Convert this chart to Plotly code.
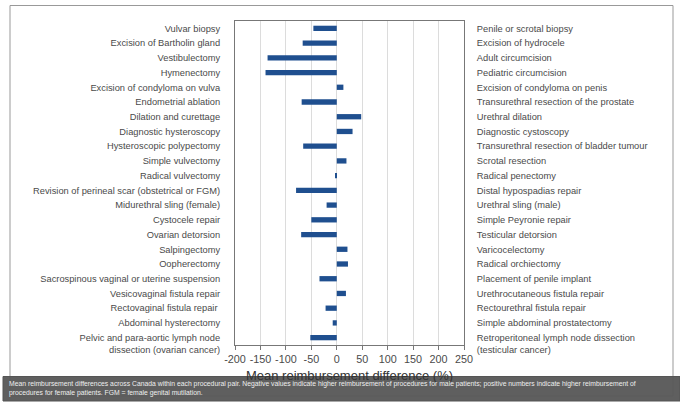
import plotly.graph_objects as go

# procedural pairs: female procedure (left) vs male procedure (right)
female_procs = [
    "Vulvar biopsy",
    "Excision of Bartholin gland",
    "Vestibulectomy",
    "Hymenectomy",
    "Excision of condyloma on vulva",
    "Endometrial ablation",
    "Dilation and curettage",
    "Diagnostic hysteroscopy",
    "Hysteroscopic polypectomy",
    "Simple vulvectomy",
    "Radical vulvectomy",
    "Revision of perineal scar (obstetrical or FGM)",
    "Midurethral sling (female)",
    "Cystocele repair",
    "Ovarian detorsion",
    "Salpingectomy",
    "Oopherectomy",
    "Sacrospinous vaginal or uterine suspension",
    "Vesicovaginal fistula repair",
    "Rectovaginal fistula repair ",
    "Abdominal hysterectomy",
    "Pelvic and para-aortic lymph node<br>dissection (ovarian cancer)",
]
male_procs = [
    "Penile or scrotal biopsy",
    "Excision of hydrocele",
    "Adult circumcision",
    "Pediatric circumcision",
    "Excision of condyloma on penis",
    "Transurethral resection of the prostate",
    "Urethral dilation",
    "Diagnostic cystoscopy",
    "Transurethral resection of bladder tumour",
    "Scrotal resection",
    "Radical penectomy",
    "Distal hypospadias repair",
    "Urethral sling (male)",
    "Simple Peyronie repair",
    "Testicular detorsion",
    "Varicocelectomy",
    "Radical orchiectomy",
    "Placement of penile implant",
    "Urethrocutaneous fistula repair",
    "Rectourethral fistula repair",
    "Simple abdominal prostatectomy",
    "Retroperitoneal lymph node dissection<br>(testicular cancer)",
]
diff_pct = [-46, -67, -136, -140, 13, -69, 48, 31, -66, 19, -2,
            -80, -20, -50, -70, 21, 22, -34, 18, -22, -8, -52]

x_ticks = [-200, -150, -100, -50, 0, 50, 100, 150, 200, 250]
x_tick_labels = ["-200", "-150", "-100", "-50", "0", "50", "100", "150", "200", "250"]

caption = ("Mean reimbursement differences across Canada within each procedural pair. "
           "Negative values indicate higher reimbursement of procedures for male patients; "
           "positive numbers indicate higher reimbursement of<br>procedures for female patients. "
           "FGM = female genital mutilation.")

W, H = 680, 405
L, R, T, B = 235, 216, 21, 60


def px(x):
    return (x - L) / (W - L - R)


def py(y):
    return 1 - (y - T) / (H - T - B)


def hang(labels):
    # two-line labels hang below their bar: pad with an empty line on top
    return [" <br>" + s if "<br>" in s else s for s in labels]


n = len(female_procs)
y_range = [n - 0.5, -0.5]

fig = go.Figure()
fig.add_trace(go.Bar(
    x=diff_pct, y=female_procs, orientation="h",
    marker=dict(color="#1f4f8f", line=dict(width=0)),
    width=0.36, yaxis="y", showlegend=False,
))
# invisible trace so the right-hand axis carries the male procedure names
fig.add_trace(go.Scatter(
    x=diff_pct, y=male_procs, mode="markers",
    marker=dict(opacity=0), yaxis="y2", showlegend=False, hoverinfo="skip",
))

lab_font = dict(family="Liberation Sans", size=9.3, color="#4a4a4a")

fig.update_layout(
    width=W, height=H,
    margin=dict(l=L, r=R, t=T, b=B),
    paper_bgcolor="white", plot_bgcolor="white",
    font=dict(family="Liberation Sans"),
    xaxis=dict(
        range=[-200, 250], tickvals=x_ticks, ticktext=x_tick_labels,
        showgrid=True, gridcolor="#dcdcdc", gridwidth=1, zeroline=False,
        showline=True, linecolor="#777", linewidth=1, mirror=True,
        ticks="outside", ticklen=4, tickcolor="#777",
        tickfont=dict(family="Liberation Sans", size=10.8, color="#4a4a4a"),
        title=dict(text="Mean reimbursement difference (%)", standoff=6,
                   font=dict(family="Liberation Sans", size=13, color="#333")),
    ),
    yaxis=dict(
        type="category", categoryorder="array", categoryarray=female_procs,
        tickmode="array", tickvals=female_procs, ticktext=hang(female_procs),
        range=y_range, autorange=False, showgrid=False, zeroline=False,
        showline=True, linecolor="#777", linewidth=1,
        ticks="", ticklabelstandoff=12, tickfont=lab_font,
    ),
    yaxis2=dict(
        type="category", categoryorder="array", categoryarray=male_procs,
        tickmode="array", tickvals=male_procs, ticktext=hang(male_procs),
        range=y_range, autorange=False, overlaying="y", side="right",
        showgrid=False, zeroline=False,
        showline=True, linecolor="#777", linewidth=1,
        ticks="", ticklabelstandoff=10, tickfont=lab_font,
    ),
    shapes=[
        # outer frame
        dict(type="rect", xref="paper", yref="paper",
             x0=px(10), x1=px(673), y0=py(396), y1=py(5.5),
             line=dict(color="#999", width=1), fillcolor="rgba(0,0,0,0)"),
        # caption bar
        dict(type="rect", xref="paper", yref="paper",
             x0=px(3), x1=px(680), y0=py(401), y1=py(376.5),
             line=dict(color="#555", width=1), fillcolor="rgba(88,88,88,0.96)"),
    ],
    annotations=[
        dict(text=caption, xref="paper", yref="paper", x=px(7), y=py(388.5),
             xanchor="left", yanchor="middle", align="left", showarrow=False,
             font=dict(family="Liberation Sans", size=6.8, color="#eeeeee")),
    ],
)

# page body has a default 8px margin; drop it so the figure sits at the window corner
fig.write_html("out.html", config={"displayModeBar": False},
               post_script="document.body.style.margin='0';")
